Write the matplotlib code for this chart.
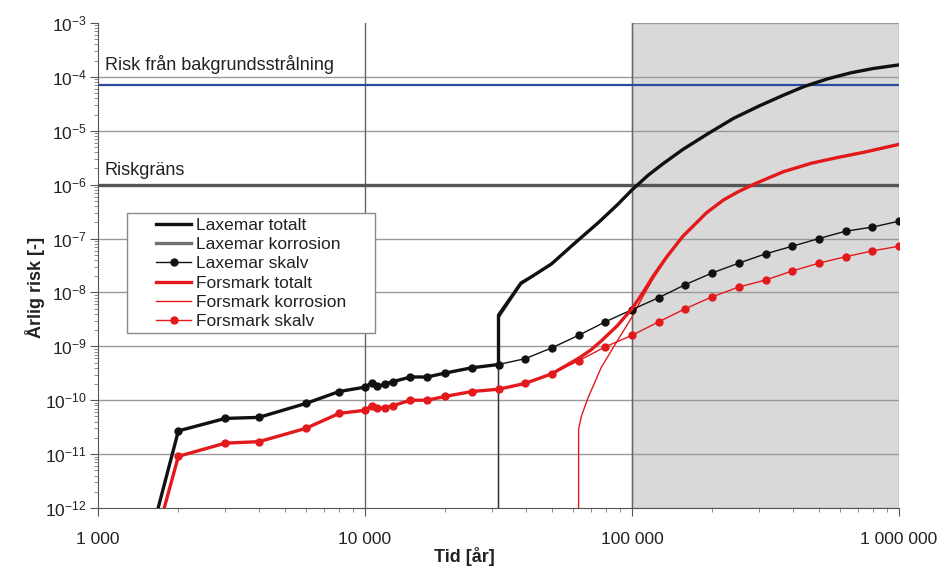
import matplotlib
matplotlib.use("Agg")
import matplotlib.pyplot as plt
from matplotlib.lines import Line2D
from matplotlib.patches import Rectangle
from matplotlib.ticker import FixedLocator, LogLocator, NullFormatter

plt.rcParams['font.family'] = ['Liberation Sans', 'DejaVu Sans']
plt.rcParams['mathtext.fontset'] = 'custom'
plt.rcParams['mathtext.rm'] = 'Liberation Sans'
plt.rcParams['mathtext.it'] = 'Liberation Sans:italic'
plt.rcParams['mathtext.bf'] = 'Liberation Sans:bold'

# --- data ---
skalv_x = [2000, 3000, 4000, 6000, 8000, 10000, 10600, 11100, 11900, 12700,
           14800, 17100, 20000, 25119, 31623, 39811, 50119, 63096, 79433, 1e5,
           125893, 158489, 199526, 251189, 316228, 398107, 501187, 630957, 794328, 1e6]
lax_skalv = [2.7e-11, 4.6e-11, 4.8e-11, 8.7e-11, 1.45e-10, 1.75e-10, 2.1e-10, 1.8e-10, 2.0e-10, 2.2e-10,
             2.7e-10, 2.7e-10, 3.2e-10, 4.0e-10, 4.6e-10, 5.9e-10, 9.4e-10, 1.6e-9, 2.85e-9, 4.8e-9,
             8.0e-9, 1.4e-8, 2.3e-8, 3.5e-8, 5.2e-8, 7.2e-8, 1.0e-7, 1.37e-7, 1.63e-7, 2.1e-7]
fors_skalv = [9.1e-12, 1.6e-11, 1.7e-11, 3.0e-11, 5.7e-11, 6.5e-11, 7.9e-11, 7.1e-11, 7.3e-11, 7.9e-11,
              1.0e-10, 1.0e-10, 1.18e-10, 1.45e-10, 1.6e-10, 2.05e-10, 3.1e-10, 5.4e-10, 9.8e-10, 1.6e-9,
              2.85e-9, 5.0e-9, 8.3e-9, 1.26e-8, 1.7e-8, 2.5e-8, 3.5e-8, 4.6e-8, 5.9e-8, 7.2e-8]

lax_tot_x = [1680, 2000, 3000, 4000, 6000, 8000, 10000, 10600, 11100, 11900, 12700,
             14800, 17100, 20000, 25119, 31623, 31623, 38400, 42000, 50000, 61000,
             75000, 88000, 1e5, 115000, 130000, 155000, 193000, 240000, 300000, 370000,
             440000, 540000, 660000, 800000, 1e6]
lax_tot = [1e-12, 2.7e-11, 4.6e-11, 4.8e-11, 8.7e-11, 1.45e-10, 1.75e-10, 2.1e-10, 1.8e-10, 2.0e-10, 2.2e-10,
           2.7e-10, 2.7e-10, 3.2e-10, 4.0e-10, 4.6e-10, 3.8e-9, 1.5e-8, 1.95e-8, 3.4e-8, 8.2e-8,
           2.0e-7, 4.2e-7, 8.0e-7, 1.5e-6, 2.4e-6, 4.5e-6, 8.9e-6, 1.7e-5, 2.9e-5, 4.6e-5,
           6.6e-5, 9.2e-5, 1.19e-4, 1.43e-4, 1.67e-4]

lax_korr_x = [31623, 31623, 38400, 42000, 50000, 61000, 75000, 88000, 1e5, 115000,
              130000, 155000, 193000, 240000, 300000, 370000, 440000, 540000, 660000, 800000, 1e6]
lax_korr = [1e-13, 3.3e-9, 1.4e-8, 1.9e-8, 3.3e-8, 8.0e-8, 1.97e-7, 4.15e-7, 7.95e-7, 1.49e-6,
            2.39e-6, 4.49e-6, 8.88e-6, 1.7e-5, 2.9e-5, 4.6e-5, 6.6e-5, 9.2e-5, 1.19e-4, 1.43e-4, 1.67e-4]

fors_tot_x = [1770, 2000, 3000, 4000, 6000, 8000, 10000, 10600, 11100, 11900, 12700,
              14800, 17100, 20000, 25119, 31623, 39811, 50119, 63096, 70000, 76600, 88000, 1e5,
              110000, 120000, 135000, 155000, 190000, 220000, 250000, 290000, 370000, 470000,
              590000, 740000, 1e6]
fors_tot = [1e-12, 9.1e-12, 1.6e-11, 1.7e-11, 3.0e-11, 5.7e-11, 6.5e-11, 7.9e-11, 7.1e-11, 7.3e-11, 7.9e-11,
            1.0e-10, 1.0e-10, 1.18e-10, 1.45e-10, 1.6e-10, 2.05e-10, 3.1e-10, 6.0e-10, 8.5e-10, 1.25e-9, 2.4e-9, 5.0e-9,
            1.0e-8, 2.0e-8, 4.6e-8, 1.1e-7, 3.0e-7, 5.2e-7, 7.4e-7, 1.05e-6, 1.75e-6, 2.5e-6,
            3.2e-6, 4.0e-6, 5.6e-6]

fors_korr_x = [63096, 63096, 64600, 68400, 72400, 76600, 86300, 1e5, 110000, 120000,
               135000, 155000, 190000, 220000, 250000, 290000, 370000, 470000, 590000, 740000, 1e6]
fors_korr = [1e-13, 2.9e-11, 5e-11, 1.1e-10, 2.1e-10, 4.0e-10, 1.07e-9, 3.5e-9, 8.5e-9, 1.8e-8,
             4.4e-8, 1.08e-7, 2.95e-7, 5.15e-7, 7.3e-7, 1.04e-6, 1.73e-6, 2.47e-6, 3.16e-6, 3.95e-6, 5.5e-6]

bakgrund = 7e-5
riskgrans = 1e-6

x_ticks = [1e3, 1e4, 1e5, 1e6]
x_labels = ['1 000', '10 000', '100 000', '1 000 000']
y_ticks = [10.0 ** e for e in range(-12, -2)]
y_labels = [r'$10^{%d}$' % e for e in range(-12, -2)]

RED = '#e3191c'
BLACK = '#111111'

fig = plt.figure(figsize=(9.39, 5.69), dpi=100)
ax = fig.add_axes([98 / 939, 1 - 508 / 569, 801 / 939, 485 / 569])
ax.set_xscale('log')
ax.set_yscale('log')
ax.set_xlim(1e3, 1e6)
ax.set_ylim(1e-12, 1e-3)

# background: shaded period, grid lines, reference levels
ax.axvspan(1e5, 1e6, facecolor='#d9d9d9', edgecolor='#9a9a9a', lw=1, zorder=0)
for yv in y_ticks[1:-1]:
    ax.axhline(yv, color='#9a9a9a', lw=1, zorder=1)
for xv in x_ticks[1:3]:
    ax.axvline(xv, color='#666666', lw=1, zorder=1)
ax.axhline(bakgrund, color='#2a4c9e', lw=1.6, zorder=2)
ax.axhline(riskgrans, color='#555555', lw=2.4, zorder=2)

ax.text(105 / 939, 1 - 65 / 569, 'Risk från bakgrundsstrålning', transform=fig.transFigure,
        fontsize=13, va='center', ha='left', color='#222222')
ax.text(105 / 939, 1 - 170 / 569, 'Riskgräns', transform=fig.transFigure,
        fontsize=13, va='center', ha='left', color='#222222')

# curves
ax.plot(lax_korr_x, lax_korr, color='#333333', lw=1.1, zorder=3)
ax.plot(fors_korr_x, fors_korr, color=RED, lw=1.0, zorder=3)
ax.plot(skalv_x, lax_skalv, color=BLACK, lw=1.0, marker='o', ms=5, zorder=4)
ax.plot(skalv_x, fors_skalv, color=RED, lw=1.0, marker='o', ms=5, zorder=4)
ax.plot(lax_tot_x, lax_tot, color=BLACK, lw=2.4, zorder=5)
ax.plot(fors_tot_x, fors_tot, color=RED, lw=2.4, zorder=5)

# axes styling
for s in ['top', 'right']:
    ax.spines[s].set_visible(False)
for s in ['left', 'bottom']:
    ax.spines[s].set_color('#555555')
ax.xaxis.set_major_locator(FixedLocator(x_ticks))
ax.set_xticklabels(x_labels)
ax.xaxis.set_minor_locator(LogLocator(base=10, subs=range(2, 10)))
ax.xaxis.set_minor_formatter(NullFormatter())
ax.yaxis.set_major_locator(FixedLocator(y_ticks))
ax.set_yticklabels(y_labels)
ax.yaxis.set_minor_locator(LogLocator(base=10, subs=range(2, 10), numticks=20))
ax.yaxis.set_minor_formatter(NullFormatter())
ax.tick_params(which='major', direction='out', length=6, color='#555555',
               labelsize=12.5, labelcolor='#222222')
ax.tick_params(which='minor', direction='out', length=3, color='#777777')
ax.tick_params(axis='x', which='major', pad=11)
ax.tick_params(axis='y', which='major', pad=2)

fig.text(464 / 939, 1 - 557 / 569, 'Tid [år]', fontsize=13, fontweight='bold',
         ha='center', va='center', color='#222222')
fig.text(35 / 939, 1 - 287 / 569, 'Årlig risk [-]', fontsize=13, fontweight='bold',
         ha='center', va='center', rotation=90, color='#222222')

# legend with its own frame box
ax.add_patch(Rectangle((127 / 939, 1 - 333 / 569), 248 / 939, 120 / 569, transform=fig.transFigure,
                       facecolor='white', edgecolor='#8a8a8a', lw=1, zorder=6, clip_on=False))
handles = [
    Line2D([], [], color=BLACK, lw=2.4),
    Line2D([], [], color='#707070', lw=2.4),
    Line2D([], [], color=BLACK, lw=1.0, marker='o', ms=5),
    Line2D([], [], color=RED, lw=2.4),
    Line2D([], [], color=RED, lw=1.0),
    Line2D([], [], color=RED, lw=1.0, marker='o', ms=5),
]
labels = ['Laxemar totalt', 'Laxemar korrosion', 'Laxemar skalv',
          'Forsmark totalt', 'Forsmark korrosion', 'Forsmark skalv']
leg = ax.legend(handles, labels, loc='upper left', bbox_to_anchor=(153 / 939, 1 - 214 / 569),
                bbox_transform=fig.transFigure, frameon=False, fontsize=12.5,
                borderpad=0.2, borderaxespad=0, handlelength=2.0, handletextpad=0.25,
                labelspacing=0.24)
leg.set_zorder(7)
for t in leg.get_texts():
    t.set_color('#222222')

fig.savefig('out.png', dpi=100)
